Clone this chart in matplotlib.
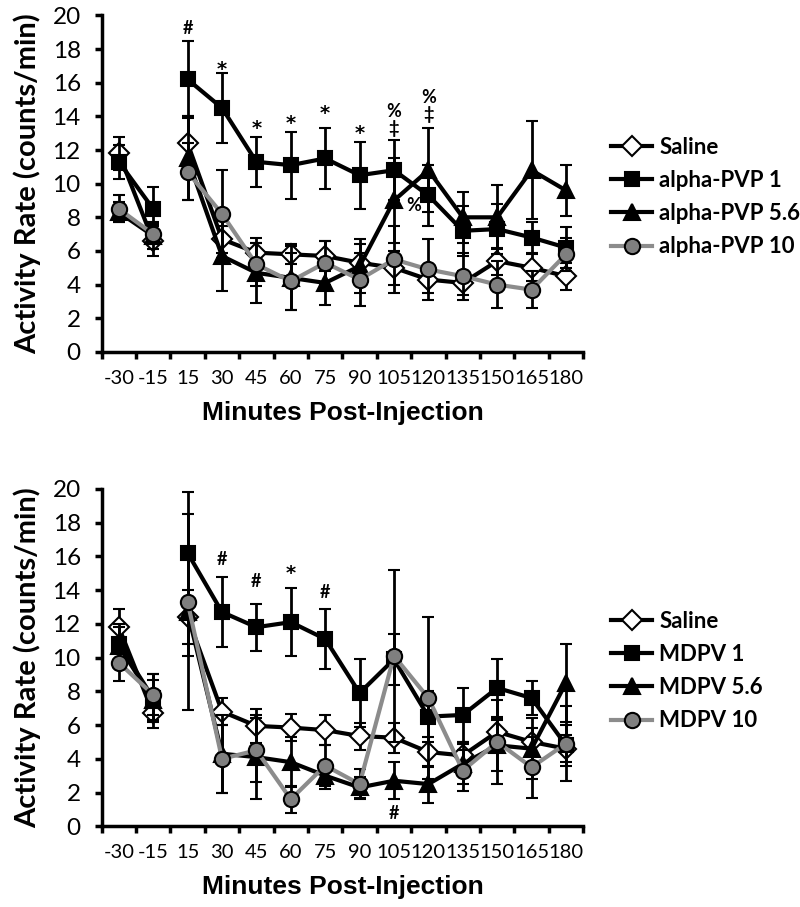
import numpy as np
import matplotlib
matplotlib.use('Agg')
import matplotlib.pyplot as plt

plt.rcParams['font.family'] = ['Lato', 'DejaVu Sans']

# x categories (minutes post-injection)
minutes = ['-30', '-15', '15', '30', '45', '60', '75', '90', '105', '120', '135', '150', '165', '180']

# top panel: alpha-PVP
saline_a = [11.8, 6.6, 12.4, 6.7, 5.9, 5.8, 5.7, 5.3, 5.0, 4.3, 4.1, 5.4, 5.0, 4.5]
saline_a_err = [1.0, 0.9, 1.6, 0.8, 0.9, 0.6, 0.9, 1.1, 1.0, 0.8, 0.7, 0.8, 0.8, 0.8]
pvp1 = [11.3, 8.5, 16.2, 14.5, 11.3, 11.1, 11.5, 10.5, 10.8, 9.3, 7.2, 7.3, 6.8, 6.2]
pvp1_err = [1.0, 1.3, 2.3, 2.1, 1.5, 2.0, 1.8, 2.0, 1.8, 1.8, 1.5, 1.5, 0.9, 1.2]
pvp56 = [8.3, 6.9, 11.5, 5.7, 4.7, 4.4, 4.1, 5.1, 9.0, 10.8, 8.0, 8.0, 10.8, 9.6]
pvp56_err = [0.6, 0.8, 2.5, 2.1, 1.8, 1.9, 1.3, 1.6, 2.5, 2.5, 1.5, 1.9, 2.9, 1.5]
pvp10 = [8.5, 7.0, 10.7, 8.2, 5.2, 4.2, 5.3, 4.3, 5.5, 4.9, 4.5, 4.0, 3.7, 5.8]
pvp10_err = [0.8, 0.6, 1.7, 2.6, 1.3, 1.7, 1.3, 1.6, 2.0, 1.8, 1.4, 1.4, 1.1, 1.0]
labels_a = ['Saline', 'alpha-PVP 1', 'alpha-PVP 5.6', 'alpha-PVP 10']

# bottom panel: MDPV
saline_m = [11.8, 6.7, 12.4, 6.8, 5.95, 5.85, 5.7, 5.35, 5.25, 4.4, 4.2, 5.6, 5.0, 4.6]
saline_m_err = [1.1, 0.9, 1.6, 0.8, 1.0, 0.8, 0.9, 0.8, 0.9, 0.9, 0.8, 0.8, 0.8, 0.8]
mdpv1 = [10.8, 7.6, 16.2, 12.7, 11.8, 12.1, 11.1, 7.9, 9.9, 6.5, 6.6, 8.2, 7.6, 4.8]
mdpv1_err = [1.0, 1.4, 3.6, 2.1, 1.4, 2.0, 1.8, 2.0, 1.5, 1.5, 1.6, 1.7, 1.0, 1.2]
mdpv56 = [10.7, 7.5, 12.7, 4.3, 4.1, 3.8, 3.0, 2.3, 2.7, 2.5, 3.7, 4.8, 4.6, 8.5]
mdpv56_err = [1.3, 1.2, 5.8, 2.3, 2.5, 1.5, 0.8, 0.6, 1.1, 1.1, 1.2, 1.5, 1.8, 2.3]
mdpv10 = [9.7, 7.8, 13.3, 4.0, 4.5, 1.6, 3.6, 2.5, 10.1, 7.6, 3.3, 5.0, 3.5, 4.9]
mdpv10_err = [1.1, 1.2, 3.2, 2.0, 1.9, 0.8, 1.2, 0.9, 5.1, 4.8, 1.2, 2.5, 1.8, 2.2]
labels_m = ['Saline', 'MDPV 1', 'MDPV 5.6', 'MDPV 10']

# significance marks: (category index, y value, symbol)
marks_a = [(2, 19.2, '#'), (3, 17.1, '*'), (4, 13.6, '*'), (5, 13.9, '*'),
           (6, 14.5, '*'), (7, 13.3, '*'), (8, 14.3, '%'), (8, 13.3, '\u2021'),
           (9, 15.1, '%'), (9, 14.1, '\u2021'), (8.58, 8.7, '%')]
marks_m = [(3, 15.8, '#'), (4, 14.5, '#'), (5, 15.3, '*'), (6, 13.85, '#'), (8, 0.75, '#')]

# marker, face colour, line colour, marker size
styles = [('D', 'white', 'black', 10),
          ('s', 'black', 'black', 10),
          ('^', 'black', 'black', 11),
          ('o', '#7f7f7f', '#8c8c8c', 11)]

x = np.arange(len(minutes))


def draw_panel(ax, series, errs, labels, marks):
    handles = []
    for k, (y, e, lab) in enumerate(zip(series, errs, labels)):
        mk, fc, lc, ms = styles[k]
        y = np.array(y)
        e = np.array(e)
        for seg in (slice(0, 2), slice(2, None)):
            h = ax.errorbar(x[seg], y[seg], yerr=e[seg], color=lc, lw=3,
                            marker=mk, ms=ms, mfc=fc, mec='black', mew=1.5,
                            ecolor='black', elinewidth=2, capsize=4, capthick=2.5,
                            zorder=3 + k)
        handles.append(h.lines[0])
    for xi, yi, s in marks:
        if s == '*':
            ax.text(xi, yi - 0.3, s, ha='center', va='center', fontsize=14,
                    fontweight='bold', family='DejaVu Sans')
        else:
            ax.text(xi, yi, s, ha='center', va='center', fontsize=13,
                    fontweight='bold', family=['Lato', 'DejaVu Sans'])

    ax.set_xlim(-0.5, len(minutes) - 0.5)
    ax.set_ylim(0, 20)
    ax.set_yticks(range(0, 21, 2))
    ax.set_xticks(np.arange(-0.5, len(minutes), 1.0))
    ax.set_xticklabels([])
    ax.set_xticks(x, minor=True)
    ax.set_xticklabels(minutes, minor=True, fontsize=14.5)
    ax.tick_params(axis='x', which='minor', length=0, pad=13)
    ax.tick_params(axis='x', which='major', length=5, width=2.5)
    ax.tick_params(axis='y', length=5, width=2.5, labelsize=17.5, pad=10)
    for s in ['top', 'right']:
        ax.spines[s].set_visible(False)
    for s in ['left', 'bottom']:
        ax.spines[s].set_linewidth(2.5)
    ax.set_ylabel('Activity Rate (counts/min)', fontsize=21, fontweight='bold', labelpad=8)
    ax.set_xlabel('Minutes Post-Injection', fontsize=19, fontweight='bold',
                  family='Liberation Sans', labelpad=10)
    ax.legend(handles, labels, loc='center left', bbox_to_anchor=(1.04, 0.46),
              frameon=False, borderaxespad=0, handlelength=1.85, handletextpad=0.3,
              labelspacing=0.55, prop={'family': 'Lato', 'weight': 'bold', 'size': 16})


fig = plt.figure(figsize=(8, 9.07), dpi=100)
ax1 = fig.add_axes([0.127, 0.612, 0.602, 0.371])
ax2 = fig.add_axes([0.127, 0.089, 0.602, 0.372])

draw_panel(ax1, [saline_a, pvp1, pvp56, pvp10],
           [saline_a_err, pvp1_err, pvp56_err, pvp10_err], labels_a, marks_a)
draw_panel(ax2, [saline_m, mdpv1, mdpv56, mdpv10],
           [saline_m_err, mdpv1_err, mdpv56_err, mdpv10_err], labels_m, marks_m)

fig.savefig('out.png', dpi=100)
